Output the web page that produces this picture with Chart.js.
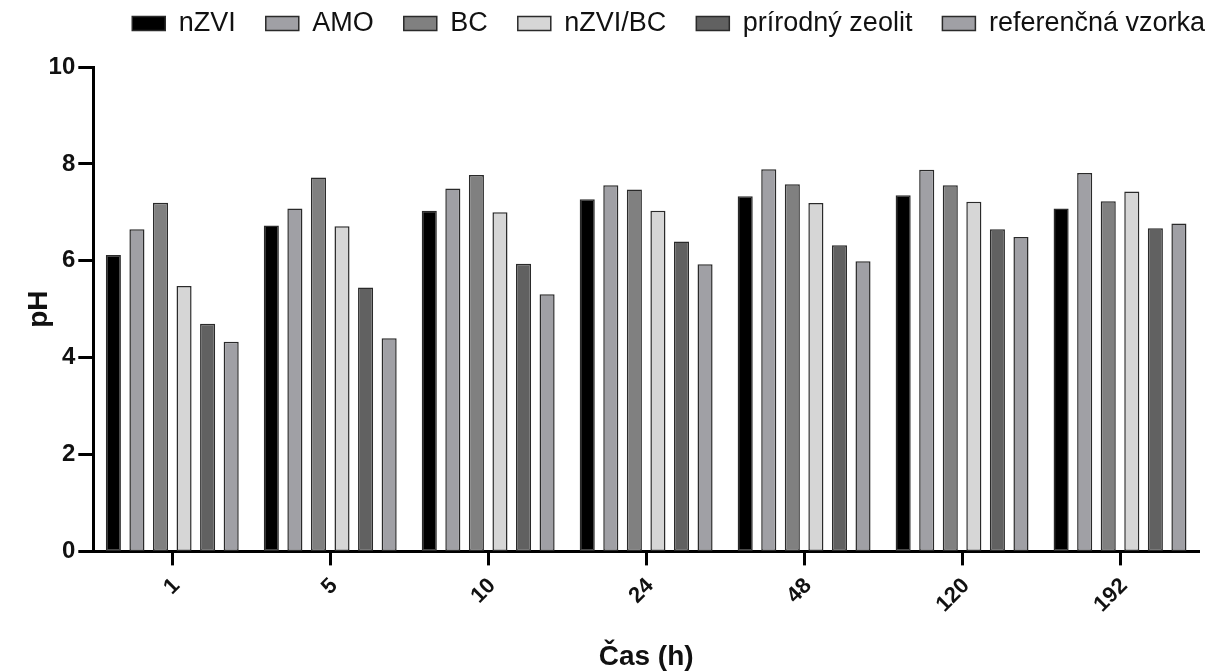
<!DOCTYPE html>
<html>
<head>
<meta charset="utf-8">
<script src="https://cdn.jsdelivr.net/npm/chart.js@4.4.1/dist/chart.umd.min.js"></script>
<style>
  body { margin: 0; background: #fff; }
</style>
</head>
<body>
<canvas id="phChart" width="1212" height="671"></canvas>
<script>
const timeLabels = ['1', '5', '10', '24', '48', '120', '192'];
const nzvi = [6.12, 6.73, 7.03, 7.27, 7.33, 7.35, 7.08];
const amo = [6.65, 7.08, 7.49, 7.56, 7.89, 7.88, 7.81];
const bc = [7.20, 7.72, 7.77, 7.47, 7.58, 7.56, 7.23];
const nzviBc = [5.48, 6.71, 7.00, 7.03, 7.19, 7.22, 7.43];
const zeolit = [4.70, 5.45, 5.94, 6.40, 6.32, 6.65, 6.67];
const reference = [4.33, 4.40, 5.31, 5.93, 5.99, 6.49, 6.77];
const yTicks = [0, 2, 4, 6, 8, 10];

const FONT = '"Liberation Sans", Arial, Helvetica, sans-serif';

function series(label, values, fill) {
  return {
    label,
    data: values,
    backgroundColor: fill,
    borderColor: '#2a2a2a',
    borderWidth: 1.5,
    borderSkipped: false,
    categoryPercentage: 0.895,
    barPercentage: 0.64
  };
}

// rotated x labels, centred a bit right of the tick like the original
const xLabels = {
  id: 'xLabels',
  afterDraw(chart) {
    const scale = chart.scales.x;
    const c = chart.ctx;
    c.save();
    c.font = 'bold 22px ' + FONT;
    c.fillStyle = '#111';
    c.textAlign = 'right';
    c.textBaseline = 'middle';
    timeLabels.forEach((label, i) => {
      const x = scale.getPixelForTick(i);
      c.save();
      c.translate(x + 4, scale.top + 31);
      c.rotate(-Math.PI / 4);
      c.fillText(label, 0, 0);
      c.restore();
    });
    c.restore();
  }
};

// legend sits higher and further right than chart.js puts it
const legendPlace = {
  id: 'legendPlace',
  beforeInit(chart) {
    const fit = chart.legend.fit;
    chart.legend.fit = function () {
      fit.call(this);
      this.height = 67;
    };
  },
  afterLayout(chart) {
    chart.legend.top -= 20;
    chart.legend.left += 36;
    chart.legend.right += 36;
  }
};

const ctx = document.getElementById('phChart').getContext('2d');
new Chart(ctx, {
  type: 'bar',
  data: {
    labels: timeLabels,
    datasets: [
      series('nZVI', nzvi, '#000000'),
      series('AMO', amo, '#a0a0a5'),
      series('BC', bc, '#808080'),
      series('nZVI/BC', nzviBc, '#d6d6d6'),
      series('prírodný zeolit', zeolit, '#616161'),
      series('referenčná vzorka', reference, '#a0a0a5')
    ]
  },
  options: {
    responsive: false,
    animation: false,
    layout: { padding: { left: 0, right: 13, top: 0, bottom: 0 } },
    plugins: {
      tooltip: { enabled: false },
      legend: {
        position: 'top',
        align: 'end',
        labels: {
          boxWidth: 33,
          boxHeight: 14,
          padding: 30,
          color: '#111',
          font: { family: FONT, size: 27 }
        }
      }
    },
    scales: {
      x: {
        grid: { drawOnChartArea: false, offset: false, tickLength: 14, tickWidth: 3, tickColor: '#000' },
        border: { color: '#000', width: 3 },
        ticks: { display: false },
        title: {
          display: true,
          text: 'Čas (h)',
          color: '#111',
          font: { family: FONT, size: 28, weight: 'bold' },
          padding: { top: 75, bottom: -3 }
        }
      },
      y: {
        min: 0,
        max: 10,
        afterBuildTicks(scale) {
          scale.ticks = yTicks.map(v => ({ value: v }));
        },
        grid: { drawOnChartArea: false, tickLength: 15, tickWidth: 3, tickColor: '#000' },
        border: { color: '#000', width: 3 },
        ticks: {
          padding: 3,
          color: '#111',
          font: { family: FONT, size: 24, weight: 'bold' }
        },
        title: {
          display: true,
          text: 'pH',
          color: '#111',
          font: { family: FONT, size: 28, weight: 'bold' },
          padding: { top: 22, bottom: -10 }
        }
      }
    }
  },
  plugins: [xLabels, legendPlace]
});
</script>
</body>
</html>
